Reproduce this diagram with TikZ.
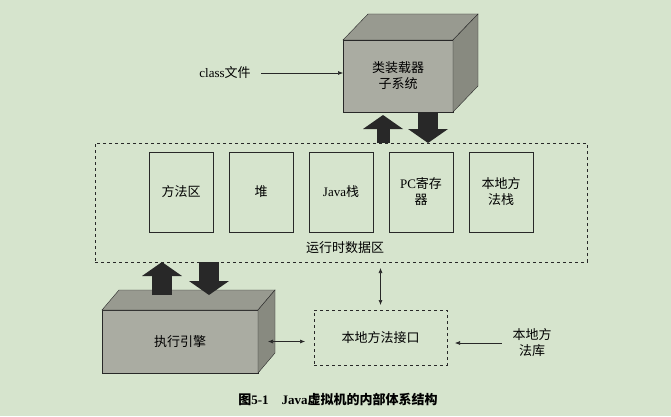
\documentclass[tikz,border=0pt]{standalone}
\usepackage{fontspec}
\setmainfont{Liberation Serif}
\newfontfamily\cjk{Noto Sans CJK SC}
\usetikzlibrary{positioning,calc,arrows.meta}

\definecolor{paper}{RGB}{214,228,205}
\definecolor{facefront}{RGB}{170,172,162}
\definecolor{facetop}{RGB}{152,154,144}
\definecolor{faceside}{RGB}{136,138,128}
\definecolor{ink}{RGB}{40,40,40}

\tikzset{
	areabox/.style={draw=ink, thick, outer sep=0pt, minimum width=64pt, minimum height=80pt, align=center},
	cubefront/.style={draw=ink, fill=facefront, outer sep=0pt, align=center, font=\cjk},
	dashbox/.style={draw=ink, dashed, outer sep=0pt},
	fatarrow/.style={draw=ink, line width=#1, -{Triangle[width=40pt, length=14pt, line width=0pt]}},
	link/.style={draw=ink, semithick, {Latex[length=5pt, width=4pt]}-{Latex[length=5pt, width=4pt]}},
	feed/.style={draw=ink, semithick, -{Latex[length=5pt, width=4pt]}}
}

\begin{document}
\fontsize{13}{16}\selectfont
\begin{tikzpicture}[x=1pt, y=1pt]
		\fill[paper] (0,0) rectangle (671,416);
		\useasboundingbox (0,0) rectangle (671,416);
		% class loader
		\node[cubefront, minimum width=110pt, minimum height=72pt] (loader) at (398,340) {类装载器\\子系统};
		\filldraw[fill=facetop, draw=ink] (loader.north west) -- ++(25,26) -- ($(loader.north east)+(25,26)$) -- (loader.north east) -- cycle;
		\filldraw[fill=faceside, draw=ink] (loader.north east) -- ++(25,26) -- ($(loader.south east)+(25,26)$) -- (loader.south east) -- cycle;
		\node (classfile) at (225,343) {class{\cjk 文件}};
		\draw[feed, shorten <=6pt] (classfile) -- (loader.west |- classfile);
		% runtime data area
		\node[dashbox, minimum width=492pt, minimum height=119pt] (runtime) at (341,213.5) {};
		\node[areabox] (method) at (181,224) {\cjk 方法区};
		\node[areabox, right=16pt of method] (heap) {\cjk 堆};
		\node[areabox, right=16pt of heap] (jstack) {Java{\cjk 栈}};
		\node[areabox, right=16pt of jstack] (pcreg) {PC{\cjk 寄存}\\{\cjk 器}};
		\node[areabox, right=16pt of pcreg] (nstack) {{\cjk 本地方}\\{\cjk 法栈}};
		\node[font=\cjk] (rtlabel) at (345,168) {运行时数据区};
		\draw[fatarrow=13pt] ([xshift=-15pt]loader.south |- runtime.north) -- ([xshift=-15pt, yshift=-3pt]loader.south);
		\draw[fatarrow=20pt] ([xshift=30pt]loader.south) -- ([xshift=30pt]loader.south |- runtime.north);
		% execution engine
		\node[cubefront, minimum width=156pt, minimum height=63pt] (engine) at (180,74.5) {执行引擎};
		\filldraw[fill=facetop, draw=ink] (engine.north west) -- ++(17,20) -- ($(engine.north east)+(17,20)$) -- (engine.north east) -- cycle;
		\filldraw[fill=faceside, draw=ink] (engine.north east) -- ++(17,20) -- ($(engine.south east)+(17,20)$) -- (engine.south east) -- cycle;
		\draw[fatarrow=20pt] ([xshift=-18pt, yshift=15pt]engine.north) -- ([xshift=-18pt]engine.north |- runtime.south);
		\draw[fatarrow=20pt] ([xshift=29pt]engine.north |- runtime.south) -- ([xshift=29pt, yshift=15pt]engine.north);
		% native interface
		\node[dashbox, minimum width=133pt, minimum height=55pt, font=\cjk] (native) at (380.5,78.5) {本地方法接口};
		\draw[link, shorten <=10pt, shorten >=9pt] (engine.east) -- (engine.east -| native.west);
		\draw[link, shorten <=5pt, shorten >=6pt] (native.north) -- (native.north |- runtime.south);
		\node[font=\cjk, align=center] (nativelib) at (532,73) {本地方\\法库};
		\draw[feed, shorten <=6pt, shorten >=8pt] (nativelib) -- (native.east |- nativelib);
		% caption
		\node[font=\bfseries] (caption) at (338,16) {{\cjk 图}5-1\quad Java{\cjk 虚拟机的内部体系结构}};
	\end{tikzpicture}
\end{document}
